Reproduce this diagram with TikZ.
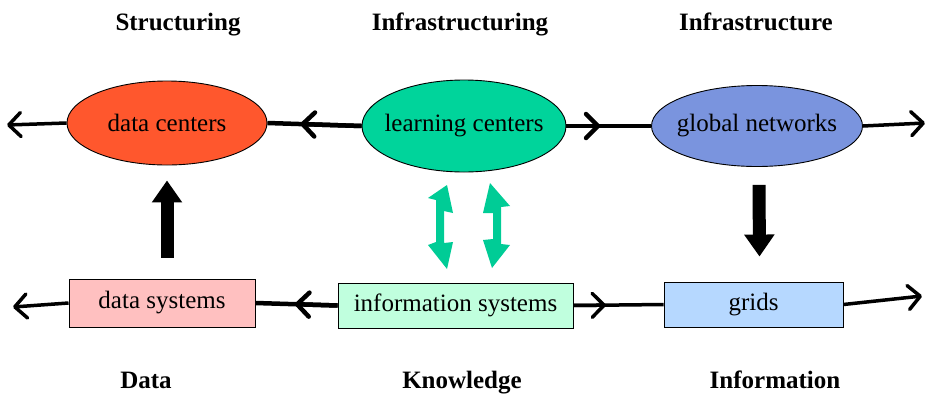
\documentclass[tikz,border=0pt]{standalone}
\usepackage{fontspec}
\setmainfont{Liberation Serif}
\usetikzlibrary{shapes.geometric,arrows.meta,calc}
\definecolor{dcfill}{RGB}{255,87,45}
\definecolor{lcfill}{RGB}{0,212,155}
\definecolor{gnfill}{RGB}{122,148,222}
\definecolor{dsfill}{RGB}{255,192,192}
\definecolor{isfill}{RGB}{192,255,222}
\definecolor{grfill}{RGB}{182,216,255}
\definecolor{grarrow}{RGB}{0,204,150}
\newcommand{\zw}[1]{\makebox[0pt]{#1}}
\tikzset{
  lbl/.style={font=\fontsize{25}{29}\selectfont},
  ttl/.style={font=\fontsize{25}{29}\selectfont\bfseries, anchor=base},
  ell/.style={ellipse, draw=black, line width=0.9pt, inner sep=0pt, lbl},
  boxn/.style={rectangle, draw=black, line width=0.9pt, inner sep=0pt, lbl},
  conn/.style={line width=3.5pt},
  connthick/.style={line width=4.5pt},
  chev/.style={-{Straight Barb[length=12pt,width=24pt,round]}},
  blockarr/.style={line width=13pt, -{Triangle[length=22pt,width=29pt]}},
}
\begin{document}
\begin{tikzpicture}[x=1pt,y=-1pt]
\useasboundingbox (0,0) rectangle (929,394);
% titles
\node[ttl] (t1) at (178,30) {Structuring};
\node[ttl] (t2) at (460,30) {Infrastructuring};
\node[ttl] (t3) at (756,30) {Infrastructure};
\node[ttl] (t4) at (146,388) {Data};
\node[ttl] (t5) at (462,388) {Knowledge};
\node[ttl] (t6) at (775,388) {Information};
% top nodes
\node[ell, fill=dcfill, minimum width=200pt, minimum height=84pt] (dc) at (167,123) {\zw{data centers}};
\node[ell, fill=lcfill, minimum width=204pt, minimum height=92pt] (lc) at (464,126) {\zw{learning centers}};
\node[ell, fill=gnfill, minimum width=211pt, minimum height=81pt] (gn) at (757,126) {\zw{global networks}};
% bottom nodes
\node[boxn, fill=dsfill, minimum width=186pt, minimum height=48pt] (ds) at (162,303) {data systems};
\node[boxn, fill=isfill, minimum width=235pt, minimum height=45pt] (is) at (455.5,305.5) {information systems};
\node[boxn, fill=grfill, minimum width=179pt, minimum height=45pt] (gr) at (753.5,304.5) {grids};
% free ends
\coordinate (tl) at (7,125);
\coordinate (tr) at (925,123);
\coordinate (bl) at (13,307);
\coordinate (br) at (922,296);
% top line
\draw[conn, chev] (dc.west) -- (tl);
\draw[connthick] (dc.east) -- (lc.west);
\draw[connthick, chev] (lc.west) -- ($(dc.east)!0.35!(lc.west)$);
\draw[connthick] (lc.east) -- (gn.west);
\draw[connthick, chev] (lc.east) -- ($(lc.east)!0.40!(gn.west)$);
\draw[conn, chev] (gn.east) -- (tr);
% bottom line
\draw[conn, chev] (ds.west) -- (bl);
\draw[connthick] (is.west) -- (ds.east);
\draw[connthick, chev] (is.west) -- ($(ds.east)!0.48!(is.west)$);
\draw[conn] (is.east) -- (gr.west);
\draw[conn, chev] (is.east) -- ($(is.east)!0.36!(gr.west)$);
\draw[conn, chev] (gr.east) -- (br);
% block arrows
\draw[blockarr] ($(ds.north)+(5,-21)$) -- ($(dc.south)+(0,15)$);
\draw[blockarr] ($(gn.south)+(2,18)$) -- ($(gr.north)+(6,-25)$);
% green double arrows
\fill[grarrow] (447,185) -- (453,213) -- (444,211) -- (444,243) -- (453,242) -- (447,269)
  -- (428,245) -- (436,242) -- (436,200) -- (428,198) -- cycle;
\fill[grarrow] (490,183) -- (510,206) -- (501,207) -- (501,244) -- (510,245) -- (492,268)
  -- (483,240) -- (493,239) -- (493,213) -- (483,213) -- cycle;
\end{tikzpicture}
\end{document}
